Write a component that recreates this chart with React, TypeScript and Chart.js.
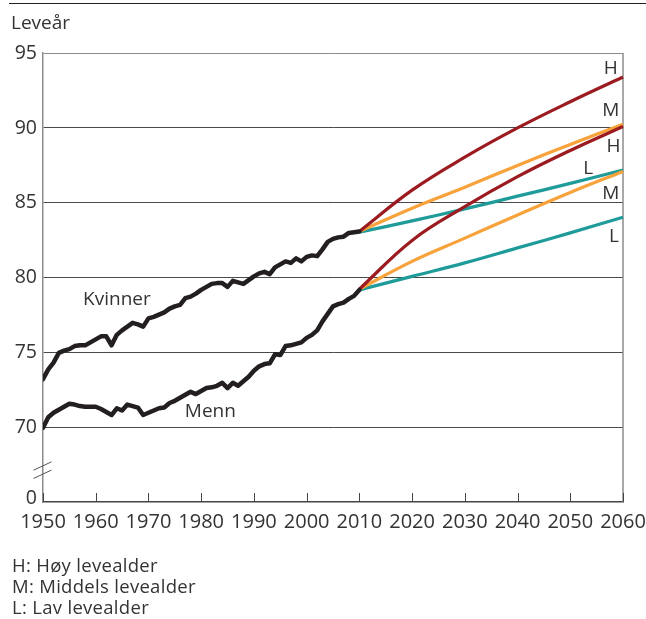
import React, { useEffect, useRef } from "react";
import { Chart, registerables } from "chart.js";

Chart.register(...registerables);

// ---------- data ----------
const histYears = [
  1950, 1951, 1952, 1953, 1954, 1955, 1956, 1957, 1958, 1959,
  1960, 1961, 1962, 1963, 1964, 1965, 1966, 1967, 1968, 1969,
  1970, 1971, 1972, 1973, 1974, 1975, 1976, 1977, 1978, 1979,
  1980, 1981, 1982, 1983, 1984, 1985, 1986, 1987, 1988, 1989,
  1990, 1991, 1992, 1993, 1994, 1995, 1996, 1997, 1998, 1999,
  2000, 2001, 2002, 2003, 2004, 2005, 2006, 2007, 2008, 2009,
  2010,
];

const kvinner = [
  73.25, 73.9, 74.35, 75.0, 75.15, 75.25, 75.45, 75.5, 75.5, 75.7,
  75.9, 76.1, 76.1, 75.5, 76.2, 76.5, 76.75, 77.0, 76.9, 76.75,
  77.3, 77.4, 77.55, 77.7, 77.95, 78.1, 78.2, 78.65, 78.75, 78.95,
  79.2, 79.4, 79.6, 79.65, 79.65, 79.4, 79.8, 79.7, 79.6, 79.85,
  80.1, 80.3, 80.4, 80.25, 80.7, 80.9, 81.1, 81.0, 81.3, 81.1,
  81.4, 81.5, 81.45, 81.9, 82.4, 82.6, 82.7, 82.75, 83.0, 83.05,
  83.1,
];

const menn = [
  70.0, 70.7, 71.0, 71.2, 71.4, 71.6, 71.55, 71.45, 71.4, 71.4,
  71.4, 71.25, 71.05, 70.85, 71.3, 71.15, 71.55, 71.45, 71.35, 70.85,
  71.0, 71.15, 71.3, 71.35, 71.65, 71.8, 72.0, 72.2, 72.4, 72.25,
  72.45, 72.65, 72.7, 72.8, 73.0, 72.65, 73.0, 72.8, 73.1, 73.4,
  73.8, 74.1, 74.25, 74.3, 74.9, 74.85, 75.45, 75.5, 75.6, 75.7,
  76.0, 76.2, 76.5, 77.1, 77.6, 78.1, 78.25, 78.35, 78.6, 78.8,
  79.2,
];

const projYears = [2010, 2020, 2030, 2040, 2050, 2060];
const kvinnerH = [83.1, 85.85, 88.05, 90.0, 91.75, 93.4];
const kvinnerM = [83.1, 84.65, 86.05, 87.5, 88.9, 90.25];
const kvinnerL = [83.05, 83.8, 84.6, 85.45, 86.3, 87.2];
const mennH = [79.25, 82.5, 84.75, 86.75, 88.5, 90.1];
const mennM = [79.25, 81.1, 82.65, 84.2, 85.7, 87.1];
const mennL = [79.2, 80.1, 81.0, 82.0, 83.0, 84.05];

const xTicks = [1950, 1960, 1970, 1980, 1990, 2000, 2010, 2020, 2030, 2040, 2050, 2060];
const yTicks = [70, 75, 80, 85, 90, 95];
const yBreakTick = 65.27;
const yBreakLabel = "0";

const yAxisTitle = "Leveår";
const seriesNames = ["Kvinner", "Menn"];
const scenarioLetters = ["H", "M", "L"];
const legendLines = ["H: Høy levealder", "M: Middels levealder", "L: Lav levealder"];

// annotation anchors (data coordinates)
const seriesLabelAnchors = [
  { text: seriesNames[0], year: 1957.6, value: 78.53 },
  { text: seriesNames[1], year: 1976.9, value: 71.07 },
];
const endLabelAnchors = [
  { text: scenarioLetters[0], year: 2057.7, value: 93.98 },
  { text: scenarioLetters[1], year: 2057.7, value: 91.13 },
  { text: scenarioLetters[0], year: 2058.2, value: 88.75 },
  { text: scenarioLetters[2], year: 2053.4, value: 87.31 },
  { text: scenarioLetters[1], year: 2057.7, value: 85.6 },
  { text: scenarioLetters[2], year: 2058.3, value: 82.75 },
];

// ---------- styles ----------
const FONT = '"Open Sans", "DejaVu Sans", sans-serif';
const TEXT = "#333333";
const BLACK = "#231f20";
const RED = "#9b1b20";
const ORANGE = "#f7a23a";
const TEAL = "#1f9b9a";
const CANVAS_W = 700;
const CANVAS_H = 619;

const pts = (xs: number[], ys: number[]) => xs.map((x, i) => ({ x, y: ys[i] }));

const decorPlugin = {
  id: "decor",
  beforeDatasetsDraw(chart: any) {
    const { ctx, chartArea: a, scales } = chart;
    const x = scales.x;
    const y = scales.y;
    ctx.save();
    // right frame
    ctx.strokeStyle = "#8c8c8c";
    ctx.lineWidth = 1.5;
    ctx.beginPath();
    ctx.moveTo(a.right, a.top);
    ctx.lineTo(a.right, a.bottom);
    ctx.stroke();
    // inward x ticks
    ctx.strokeStyle = "#444";
    ctx.lineWidth = 1;
    ctx.beginPath();
    for (const t of xTicks) {
      const px = Math.round(x.getPixelForValue(t)) + 0.5;
      ctx.moveTo(px, a.bottom);
      ctx.lineTo(px, a.bottom - 9);
    }
    ctx.stroke();
    // axis break marks
    ctx.strokeStyle = "#555";
    ctx.lineWidth = 1;
    ctx.beginPath();
    for (const v of [67.45, 66.9]) {
      const py = y.getPixelForValue(v);
      ctx.moveTo(a.left - 9.5, py + 4.2);
      ctx.lineTo(a.left + 8.5, py - 4.2);
    }
    ctx.stroke();
    ctx.restore();
  },
  afterDatasetsDraw(chart: any) {
    const { ctx, scales } = chart;
    const x = scales.x;
    const y = scales.y;
    ctx.save();
    ctx.fillStyle = TEXT;
    ctx.textBaseline = "middle";
    ctx.font = `19px ${FONT}`;
    ctx.textAlign = "left";
    for (const l of seriesLabelAnchors) {
      ctx.fillText(l.text, x.getPixelForValue(l.year), y.getPixelForValue(l.value));
    }
    ctx.textAlign = "center";
    for (const l of endLabelAnchors) {
      ctx.fillText(l.text, x.getPixelForValue(l.year), y.getPixelForValue(l.value));
    }
    ctx.restore();
  },
};

export default function App() {
  const ref = useRef<HTMLCanvasElement | null>(null);

  useEffect(() => {
    if (!ref.current) return;
    Chart.defaults.font.family = FONT;
    const hist = (label: string, data: number[]) => ({
      label,
      data: pts(histYears, data),
      borderColor: BLACK,
      borderWidth: 4.5,
      borderJoinStyle: "round" as const,
      borderCapStyle: "round" as const,
      pointRadius: 0,
      tension: 0,
    });
    const proj = (label: string, data: number[], color: string) => ({
      label,
      data: pts(projYears, data),
      borderColor: color,
      borderWidth: 3.2,
      pointRadius: 0,
      tension: 0.4,
      clip: false as const,
    });

    const chart = new Chart(ref.current, {
      type: "line",
      data: {
        datasets: [
          hist(seriesNames[0], kvinner),
          hist(seriesNames[1], menn),
          proj("Kvinner H", kvinnerH, RED),
          proj("Menn H", mennH, RED),
          proj("Kvinner M", kvinnerM, ORANGE),
          proj("Menn M", mennM, ORANGE),
          proj("Kvinner L", kvinnerL, TEAL),
          proj("Menn L", mennL, TEAL),
        ] as any,
      },
      options: {
        animation: false,
        responsive: false,
        maintainAspectRatio: false,
        devicePixelRatio: 1,
        layout: { padding: { left: 0, top: 53, right: CANVAS_W - 623, bottom: 77 } },
        plugins: { legend: { display: false }, tooltip: { enabled: false } },
        scales: {
          x: {
            type: "linear",
            min: 1950,
            max: 2060,
            afterBuildTicks: (s: any) => {
              s.ticks = xTicks.map((v) => ({ value: v }));
            },
            afterFit: (s: any) => {
              s.height = 40;
            },
            grid: { display: false, drawTicks: false },
            border: { display: true, color: "#444", width: 1.5 },
            ticks: {
              color: TEXT,
              font: { size: 20, family: FONT },
              padding: 8,
              maxRotation: 0,
              autoSkip: false,
              callback: (v: any) => String(v),
            },
          },
          y: {
            type: "linear",
            min: 65.05,
            max: 95,
            afterBuildTicks: (s: any) => {
              s.ticks = [yBreakTick, ...yTicks].map((v) => ({ value: v }));
            },
            afterFit: (s: any) => {
              s.width = 43;
            },
            grid: {
              drawTicks: false,
              color: (c: any) =>
                c.tick && c.tick.value >= 70
                  ? c.tick.value === 95
                    ? "#8c8c8c"
                    : "#4a4a4a"
                  : "rgba(0,0,0,0)",
              lineWidth: 1,
            },
            border: { display: true, color: "#8c8c8c", width: 1.5 },
            ticks: {
              color: TEXT,
              font: { size: 19.5, family: FONT },
              padding: 6,
              autoSkip: false,
              callback: (v: any) => (v < 70 ? yBreakLabel : String(v)),
            },
          },
        },
      },
      plugins: [decorPlugin],
    });
    return () => chart.destroy();
  }, []);

  return (
    <div
      style={{
        position: "fixed",
        left: 0,
        top: 0,
        width: 646,
        height: 619,
        overflow: "hidden",
        background: "#fff",
        fontFamily: FONT,
        color: TEXT,
      }}
    >
      <canvas
        ref={ref}
        width={CANVAS_W}
        height={CANVAS_H}
        style={{ position: "absolute", left: 0, top: 0, width: CANVAS_W, height: CANVAS_H }}
      />
      <div
        style={{
          position: "absolute",
          left: 9,
          top: 3,
          width: 637,
          height: 1,
          background: BLACK,
        }}
      />
      <div
        style={{
          position: "absolute",
          left: 11,
          top: 13,
          fontSize: 19,
          lineHeight: "19px",
          whiteSpace: "nowrap",
        }}
      >
        {yAxisTitle}
      </div>
      <div
        style={{
          position: "absolute",
          left: 12,
          top: 554,
          fontSize: 18.5,
          letterSpacing: "0.3px",
          lineHeight: "21px",
          whiteSpace: "nowrap",
        }}
      >
        {legendLines.map((t) => (
          <div key={t}>{t}</div>
        ))}
      </div>
    </div>
  );
}
